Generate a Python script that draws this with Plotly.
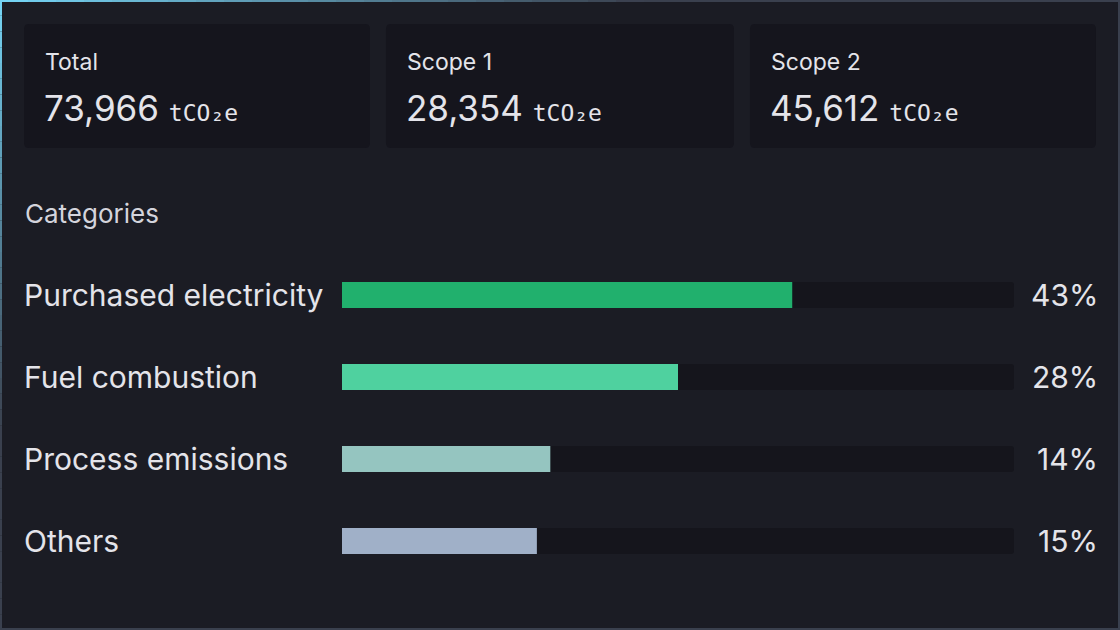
import plotly.graph_objs as go

W, H = 1120, 630

# KPI cards
kpi_labels = ['Total', 'Scope 1', 'Scope 2']
kpi_values = [73966, 28354, 45612]
unit = 'tCO₂e'

# category breakdown
categories = ['Purchased electricity', 'Fuel combustion', 'Process emissions', 'Others']
share_pct = [43, 28, 14, 15]
bar_fill = [67, 50, 31, 29]  # bar length as % of the track
bar_colors = ['#21b06d', '#4fd19f', '#95c5c0', '#a0b0c8']

BG = '#1b1c24'
CARD = '#15151d'
TRACK = '#15151c'
TEXT = '#e4e4ea'


def px(x):
    return x / W


def py(y):
    return 1 - y / H


def rounded_rect(x0, y0, x1, y1, r):
    pts = [
        'M', px(x0 + r), py(y0),
        'L', px(x1 - r), py(y0),
        'Q', px(x1), py(y0), px(x1), py(y0 + r),
        'L', px(x1), py(y1 - r),
        'Q', px(x1), py(y1), px(x1 - r), py(y1),
        'L', px(x0 + r), py(y1),
        'Q', px(x0), py(y1), px(x0), py(y1 - r),
        'L', px(x0), py(y0 + r),
        'Q', px(x0), py(y0), px(x0 + r), py(y0),
        'Z',
    ]
    return ' '.join(str(p) if isinstance(p, str) else '%.5f' % p for p in pts)


def mix(c1, c2, t):
    a = [int(c1[i:i + 2], 16) for i in (1, 3, 5)]
    b = [int(c2[i:i + 2], 16) for i in (1, 3, 5)]
    return '#%02x%02x%02x' % tuple(round(a[k] + (b[k] - a[k]) * t) for k in range(3))


fig = go.Figure()

fig.add_trace(go.Bar(y=categories, x=[100] * len(categories), orientation='h',
                     marker=dict(color=TRACK, cornerradius=3, line=dict(width=0)),
                     hoverinfo='skip', showlegend=False))
fig.add_trace(go.Bar(y=categories, x=bar_fill, orientation='h',
                     marker=dict(color=bar_colors, line=dict(width=0)), customdata=share_pct,
                     hovertemplate='%{y}: %{customdata}%<extra></extra>', showlegend=False))

shapes = []
annotations = []

# cards
card_x = [(24, 370), (386, 734), (750, 1096)]
for (x0, x1), lab, val in zip(card_x, kpi_labels, kpi_values):
    shapes.append(dict(type='path', path=rounded_rect(x0, 24, x1, 148, 5), xref='paper', yref='paper',
                       fillcolor=CARD, line=dict(width=0), layer='below'))
    annotations.append(dict(x=px(x0 + 19), y=py(62), xref='paper', yref='paper', text=lab,
                            showarrow=False, xanchor='left', yanchor='middle',
                            font=dict(family='Inter', size=23, color=TEXT)))
    annotations.append(dict(x=px(x0 + 18), y=py(108), xref='paper', yref='paper',
                            text='<span style="font-size:35px">%s</span> '
                                 '<span style="font-family:DejaVu Sans Mono;font-size:23px">%s</span>'
                                 % ('{:,}'.format(val), unit),
                            showarrow=False, xanchor='left', yanchor='middle',
                            font=dict(family='Inter', size=35, color=TEXT)))

annotations.append(dict(x=px(23), y=py(213), xref='paper', yref='paper', text='Categories',
                        showarrow=False, xanchor='left', yanchor='middle',
                        font=dict(family='Inter', size=26, color='#d4d4dc')))

for cat, pct in zip(categories, share_pct):
    annotations.append(dict(x=px(22), y=cat, xref='paper', yref='y', text=cat, showarrow=False,
                            xanchor='left', yanchor='middle',
                            font=dict(family='Inter', size=30, color=TEXT)))
    annotations.append(dict(x=px(1100), y=cat, xref='paper', yref='y', text='%d%%' % pct,
                            showarrow=False, xanchor='right', yanchor='middle',
                            font=dict(family='Inter', size=30, color=TEXT)))

# gradient border: cyan in the top-left corner fading to slate grey
CYAN = '#74d2f2'
GREY = '#3a404e'
n = 40
for i in range(n):
    xa, xb = W * i / n, W * (i + 1) / n
    t = min(1, (xa / W) * 1.8)
    shapes.append(dict(type='line', x0=px(xa), x1=px(xb), y0=py(1), y1=py(1), xref='paper', yref='paper',
                       line=dict(color=mix(CYAN, GREY, t), width=2)))
    ya, yb = H * i / n, H * (i + 1) / n
    t = min(1, (ya / H) * 1.5)
    shapes.append(dict(type='line', x0=px(1), x1=px(1), y0=py(ya), y1=py(yb), xref='paper', yref='paper',
                       line=dict(color=mix(CYAN, GREY, t), width=2)))
shapes.append(dict(type='line', x0=px(1119), x1=px(1119), y0=py(0), y1=py(630), xref='paper', yref='paper',
                   line=dict(color=GREY, width=2)))
shapes.append(dict(type='line', x0=px(0), x1=px(1120), y0=py(629), y1=py(629), xref='paper', yref='paper',
                   line=dict(color=GREY, width=2)))

fig.update_layout(
    width=W,
    height=H,
    margin=dict(l=0, r=0, t=0, b=0),
    paper_bgcolor=BG,
    plot_bgcolor='rgba(0,0,0,0)',
    barmode='overlay',
    bargap=0.683,
    xaxis=dict(domain=[px(342), px(1014)], range=[0, 100], visible=False, fixedrange=True),
    yaxis=dict(domain=[py(582), py(254)], type='category', categoryarray=categories,
               range=[3.5, -0.5], visible=False, fixedrange=True),
    shapes=shapes,
    annotations=annotations,
    font=dict(family='Inter', color=TEXT),
)

fig.write_html('out.html', config={'displayModeBar': False},
               post_script="document.body.style.margin='0';document.body.style.overflow='hidden';")
